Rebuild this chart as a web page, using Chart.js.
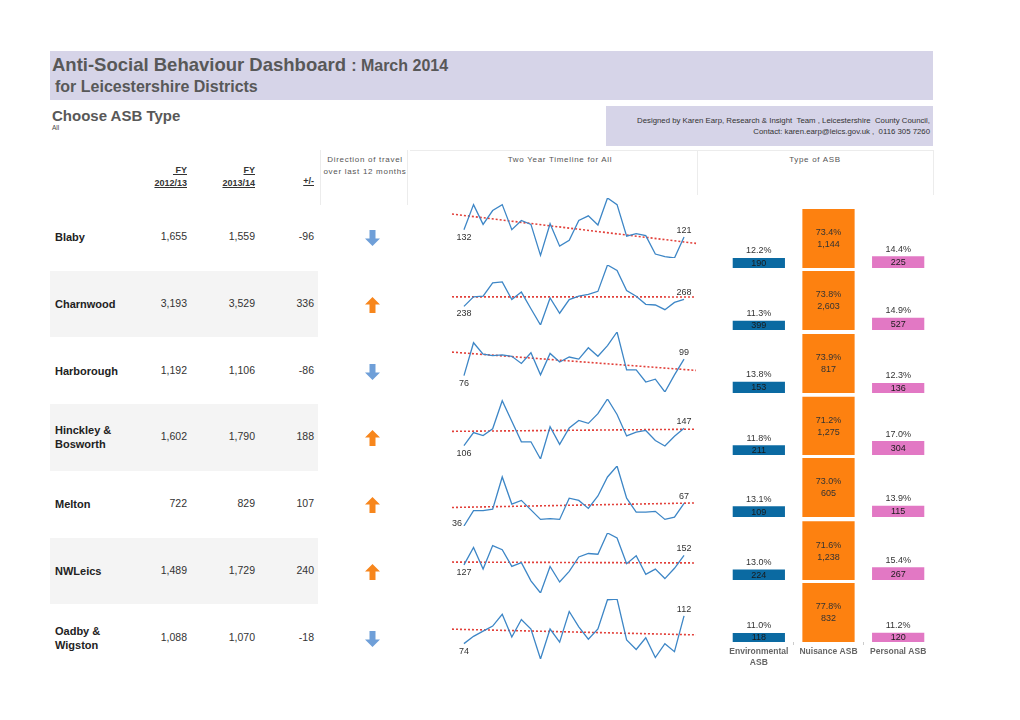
<!DOCTYPE html>
<html>
<head>
<meta charset="utf-8">
<script src="https://cdn.jsdelivr.net/npm/chart.js@4"></script>
<style>
  body { margin: 0; background: #fff; font-family: "Liberation Sans", Arial, sans-serif; color: #333; }
  #page { position: relative; width: 1020px; height: 720px; overflow: hidden; }
  .abs { position: absolute; }
  .band { background: #d6d4e8; }
  .title { left: 52px; top: 54px; font-weight: bold; color: #585858; font-size: 18.5px; white-space: nowrap; }
  .title small { font-size: 16px; }
  .sub { left: 55px; top: 78px; font-weight: bold; color: #585858; font-size: 16px; white-space: nowrap; }
  .hdr { font-size: 8px; color: #555; letter-spacing: 0.7px; text-align: center; line-height: 12px; white-space: nowrap; }
  .credit { right: 90px; top: 115px; font-size: 7.8px; color: #333; text-align: right; line-height: 11px; white-space: nowrap; }
  .fy { font-size: 9px; font-weight: bold; text-decoration: underline; text-align: right; line-height: 13px; white-space: pre; color: #333; }
  .name { left: 55px; width: 75px; font-size: 11px; font-weight: bold; line-height: 14px; color: #222; }
  .num { font-size: 10.5px; text-align: right; width: 60px; color: #333; }
  .vline { background: #ececec; width: 1px; }
  .hline { background: #ececec; height: 1px; }
</style>
</head>
<body>
<div id="page"></div>
<script>
const districts = ["Blaby", "Charnwood", "Harborough", "Hinckley & Bosworth", "Melton", "NWLeics", "Oadby & Wigston"];
const fy1213 = [1655, 3193, 1192, 1602, 722, 1489, 1088];
const fy1314 = [1559, 3529, 1106, 1790, 829, 1729, 1070];

const months = ["Apr-12", "May-12", "Jun-12", "Jul-12", "Aug-12", "Sep-12", "Oct-12", "Nov-12", "Dec-12", "Jan-13", "Feb-13", "Mar-13",
                "Apr-13", "May-13", "Jun-13", "Jul-13", "Aug-13", "Sep-13", "Oct-13", "Nov-13", "Dec-13", "Jan-14", "Feb-14", "Mar-14"];

const blabyMonthly      = [132, 170, 140, 161, 170, 132, 146, 140, 93, 141, 107, 116, 146, 153, 139, 180, 170, 122, 126, 123, 95, 91, 89, 121];
const charnwoodMonthly  = [238, 279, 282, 338, 342, 267, 299, 228, 159, 274, 209, 267, 282, 289, 302, 414, 391, 305, 281, 247, 244, 224, 255, 268];
const harboroughMonthly = [76, 122, 106, 104, 105, 103, 93, 108, 77, 107, 95, 102, 99, 115, 103, 118, 137, 84, 84, 67, 71, 53, 77, 99];
const hinckleyMonthly   = [106, 137, 130, 146, 213, 164, 115, 115, 74, 151, 109, 148, 166, 159, 182, 217, 180, 129, 138, 142, 118, 105, 128, 147];
const meltonMonthly     = [36, 57, 57, 59, 103, 66, 71, 58, 45, 46, 45, 74, 71, 60, 77, 103, 118, 74, 55, 55, 56, 45, 48, 67];
const nwleicsMonthly    = [127, 173, 116, 178, 167, 123, 133, 85, 53, 123, 82, 110, 148, 157, 155, 211, 198, 130, 151, 102, 116, 91, 118, 152];
const oadbyMonthly      = [74, 84, 91, 98, 114, 83, 107, 94, 53, 94, 76, 118, 97, 80, 94, 134, 135, 79, 66, 82, 55, 74, 63, 112];
const monthly = [blabyMonthly, charnwoodMonthly, harboroughMonthly, hinckleyMonthly, meltonMonthly, nwleicsMonthly, oadbyMonthly];

const asbTypes = [["Environmental", "ASB"], "Nuisance ASB", "Personal ASB"];
const envCount  = [190, 399, 153, 211, 109, 224, 118];
const nuisCount = [1144, 2603, 817, 1275, 605, 1238, 832];
const persCount = [225, 527, 136, 304, 115, 267, 120];

const page = document.getElementById("page");
const fmt = (n) => n.toLocaleString("en-US");

function el(cls, style, html) {
  const d = document.createElement("div");
  d.className = "abs " + cls;
  d.style.cssText = style;
  d.innerHTML = html || "";
  page.appendChild(d);
  return d;
}

function addCanvas(left, top, w, h) {
  const c = document.createElement("canvas");
  c.width = w;
  c.height = h;
  c.style.cssText = `position:absolute;left:${left}px;top:${top}px;width:${w}px;height:${h}px`;
  page.appendChild(c);
  return c;
}

// header
el("band", "left:50px;top:51px;width:883px;height:49px");
el("title", "", "Anti-Social Behaviour Dashboard <small>: March 2014</small>");
el("sub", "", "for Leicestershire Districts");
el("", "left:52px;top:107px;font-size:15px;font-weight:bold;color:#585858", "Choose ASB Type");
el("", "left:52px;top:124px;font-size:6.5px;color:#444", "All");
el("band", "left:606px;top:106px;width:327px;height:40px");
el("credit", "", "Designed by Karen Earp, Research &amp; Insight &nbsp;Team , Leicestershire &nbsp;County Council,<br>Contact: karen.earp@leics.gov.uk , &nbsp;0116 305 7260");

// faint frame lines
el("vline", "left:320px;top:150px;height:55px");
el("vline", "left:407px;top:150px;height:55px");
el("vline", "left:697px;top:150px;height:45px");
el("vline", "left:933px;top:150px;height:45px");
el("hline", "left:410px;top:150px;width:523px");

el("hdr", "left:322px;top:154px;width:86px", "Direction of travel<br>over last 12 months");
el("hdr", "left:455px;top:154px;width:210px", "Two Year Timeline for All");
el("hdr", "left:710px;top:154px;width:210px", "Type of ASB");

el("fy", "left:127px;top:164px;width:60px", " FY\n2012/13");
el("fy", "left:195px;top:164px;width:60px", "FY\n2013/14");
el("fy", "left:274px;top:175px;width:40px", "+/-");

function arrowSvg(up) {
  const col = up ? "#f7861c" : "#6f9fd8";
  const pts = up ? "7.5,0 15,7.5 10.5,7.5 10.5,16 4.5,16 4.5,7.5 0,7.5" : "4.5,0 10.5,0 10.5,8.5 15,8.5 7.5,16 0,8.5 4.5,8.5";
  return `<svg width="15" height="16" viewBox="0 0 15 16"><polygon points="${pts}" fill="${col}"/></svg>`;
}

// table rows
const rowH = 66.7;
districts.forEach((name, i) => {
  const top = 204 + rowH * i;
  if (i % 2 === 1) el("", `left:50px;top:${top}px;width:268px;height:${rowH}px;background:#f4f4f4`);
  const mid = top + rowH / 2;
  el("name", `top:${mid}px;transform:translateY(-50%)`, name);
  const diff = fy1314[i] - fy1213[i];
  el("num", `left:127px;top:${mid - 7}px`, fmt(fy1213[i]));
  el("num", `left:195px;top:${mid - 7}px`, fmt(fy1314[i]));
  el("num", `left:254px;top:${mid - 7}px`, fmt(diff));
  el("", `left:365px;top:${mid - 7}px;width:15px;height:16px`, arrowSvg(diff > 0));
});

// sparklines
const sparkLabels = {
  id: "sparkLabels",
  afterDatasetsDraw(chart) {
    const pts = chart.getDatasetMeta(0).data;
    const vals = chart.data.datasets[0].data.map((d) => d.y);
    const ctx = chart.ctx;
    const first = pts[0], last = pts[pts.length - 1];
    ctx.save();
    ctx.font = '9px "Liberation Sans", Arial';
    ctx.fillStyle = "#333";
    if (vals[0] === Math.min(...vals)) {
      ctx.textAlign = "right";
      ctx.textBaseline = "middle";
      ctx.fillText(vals[0], first.x - 2, first.y - 2);
    } else {
      ctx.textAlign = "center";
      ctx.textBaseline = "top";
      ctx.fillText(vals[0], first.x, first.y + 3);
    }
    ctx.textAlign = "center";
    ctx.textBaseline = "bottom";
    ctx.fillText(vals[vals.length - 1], last.x, last.y - 2);
    ctx.restore();
  },
};

function trendFn(vals) {
  const n = vals.length;
  const mx = (n - 1) / 2;
  const my = vals.reduce((a, b) => a + b, 0) / n;
  let sxy = 0, sxx = 0;
  vals.forEach((v, i) => { sxy += (i - mx) * (v - my); sxx += (i - mx) * (i - mx); });
  const b = sxy / sxx;
  return (x) => my + b * (x - mx);
}

const xLo = -1.25, xHi = months.length - 1 + 1.25;
monthly.forEach((vals, i) => {
  const plotTop = 198 + 66.9 * i;
  const c = addCanvas(440, plotTop - 15, 270, 90);
  const tr = trendFn(vals);
  new Chart(c, {
    type: "line",
    data: {
      labels: months,
      datasets: [
        {
          data: vals.map((v, k) => ({ x: k, y: v })),
          borderColor: "#3d86c6",
          borderWidth: 1.3,
          pointRadius: 0,
          tension: 0,
        },
        {
          data: [{ x: xLo, y: tr(xLo) }, { x: xHi, y: tr(xHi) }],
          borderColor: "#e2403a",
          borderWidth: 1.6,
          borderDash: [2, 2],
          pointRadius: 0,
          clip: false,
        },
      ],
    },
    options: {
      responsive: false,
      animation: false,
      events: [],
      layout: { padding: { left: 12, right: 14, top: 15, bottom: 15 } },
      plugins: { legend: { display: false }, tooltip: { enabled: false } },
      scales: {
        x: { type: "linear", display: false, min: xLo, max: xHi },
        y: { display: false, min: Math.min(...vals), max: Math.max(...vals) },
      },
    },
    plugins: [sparkLabels],
  });
});

// type of ASB bars
const barLabels = {
  id: "barLabels",
  afterDatasetsDraw(chart) {
    const ds = chart.data.datasets[0];
    const area = chart.chartArea;
    const ctx = chart.ctx;
    ctx.save();
    ctx.font = '9px "Liberation Sans", Arial';
    ctx.textAlign = "center";
    ctx.textBaseline = "middle";
    chart.getDatasetMeta(0).data.forEach((bar, j) => {
      const top = Math.max(bar.y, area.top);
      const pct = ds.data[j].toFixed(1) + "%";
      const cnt = fmt(ds.counts[j]);
      if (bar.base - top > 40) {
        ctx.fillStyle = "#333";
        ctx.fillText(pct, bar.x, top + 24);
        ctx.fillText(cnt, bar.x, top + 36);
      } else {
        ctx.fillStyle = "#333";
        ctx.fillText(pct, bar.x, top - 7);
        ctx.fillStyle = "#1a1a1a";
        ctx.fillText(cnt, bar.x, (top + bar.base) / 2 + 0.5);
      }
    });
    ctx.restore();
  },
};

districts.forEach((name, i) => {
  const base = 268 + 62.3 * i;
  const plotH = 59;
  const isLast = i === districts.length - 1;
  const c = addCanvas(724, base - plotH, 209, plotH + (isLast ? 30 : 0));
  const counts = [envCount[i], nuisCount[i], persCount[i]];
  const xScale = {
    display: isLast,
    grid: { drawOnChartArea: false, color: "#cccccc", tickLength: 3 },
    border: { display: false },
    ticks: { color: "#666", padding: 2, font: { family: '"Liberation Sans", Arial', size: 8.5, weight: "bold" } },
  };
  if (isLast) xScale.afterFit = (s) => { s.height = 30; };
  new Chart(c, {
    type: "bar",
    data: {
      labels: asbTypes,
      datasets: [
        {
          data: counts.map((v) => (v / fy1314[i]) * 100),
          counts: counts,
          backgroundColor: ["#0b6aa2", "#fd8110", "#e278c4"],
          borderWidth: 0,
          barPercentage: 0.75,
          categoryPercentage: 1,
        },
      ],
    },
    options: {
      responsive: false,
      animation: false,
      events: [],
      layout: { padding: 0 },
      plugins: { legend: { display: false }, tooltip: { enabled: false } },
      scales: {
        x: xScale,
        y: { display: false, min: 0, max: 72 },
      },
    },
    plugins: [barLabels],
  });
});
</script>
</body>
</html>
